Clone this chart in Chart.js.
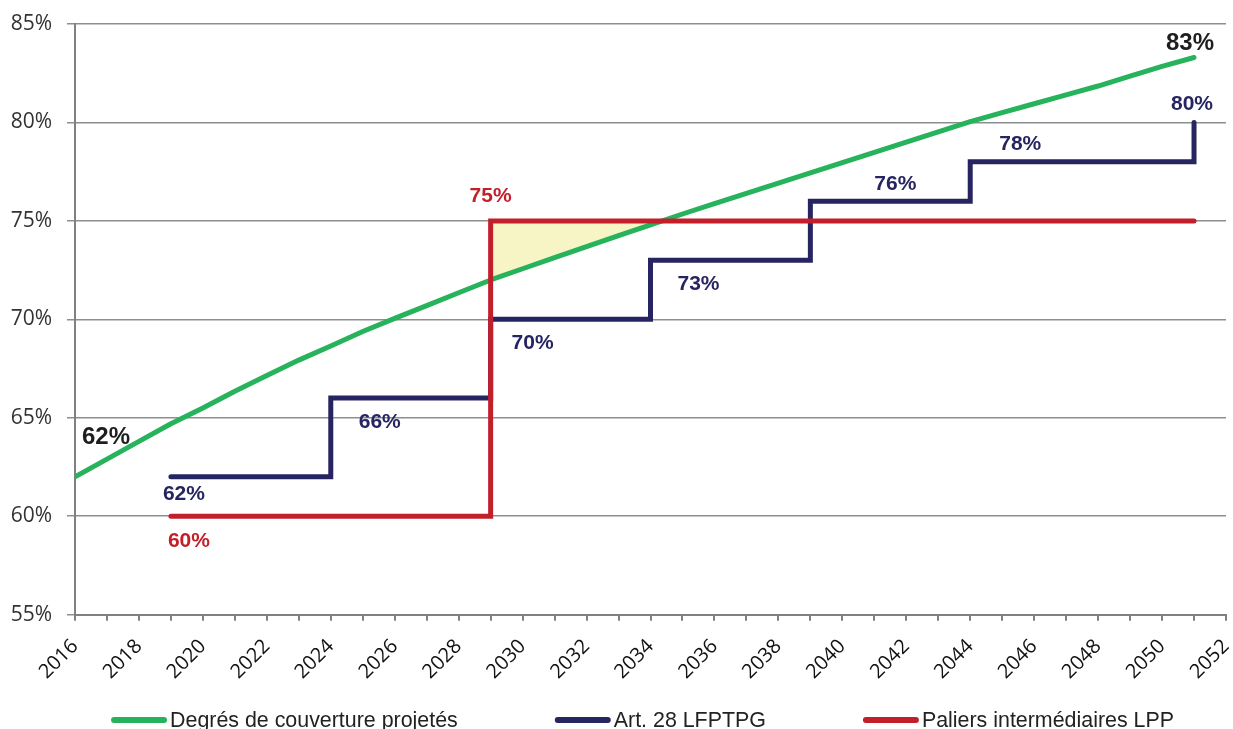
<!DOCTYPE html>
<html>
<head>
<meta charset="utf-8">
<title>Degrés de couverture</title>
<script src="https://cdn.jsdelivr.net/npm/chart.js@4.4.1/dist/chart.umd.min.js"></script>
<style>
  html, body { margin: 0; padding: 0; background: #ffffff; overflow: hidden; }
  #wrap { width: 1233px; height: 729px; position: relative; }
</style>
</head>
<body>
<div id="wrap"><canvas id="c"></canvas></div>
<script>
// Projected funding ratio, one value per year (%)
const years = [2016, 2017, 2018, 2019, 2020, 2021, 2022, 2023, 2024, 2025, 2026, 2027,
               2028, 2029, 2030, 2031, 2032, 2033, 2034, 2035, 2036, 2037, 2038, 2039,
               2040, 2041, 2042, 2043, 2044, 2045, 2046, 2047, 2048, 2049, 2050, 2051];
const couverture = [62.0, 62.9, 63.8, 64.7, 65.5, 66.35, 67.15, 67.93, 68.65, 69.38, 70.05, 70.7,
                    71.35, 72.0, 72.57, 73.13, 73.69, 74.25, 74.8, 75.35, 75.88, 76.4, 76.92, 77.44,
                    77.96, 78.48, 79.0, 79.52, 80.04, 80.5, 80.95, 81.4, 81.85, 82.35, 82.85, 83.3];

// Art. 28 LFPTPG steps (start year of each level, last entry closes the path)
const art28Years  = [2019, 2024, 2029, 2034, 2039, 2044, 2051];
const art28Values = [62, 66, 70, 73, 76, 78, 80];

// LPP intermediate levels
const lppYears  = [2019, 2029, 2051];
const lppValues = [60, 75, 75];

// Axis ranges and tick labels
const xMin = 2016, xMax = 2052;
const yTicks = [55, 60, 65, 70, 75, 80, 85];

const seriesNames = ['Degrés de couverture projetés', 'Art. 28 LFPTPG', 'Paliers intermédiaires LPP'];
const colors = { green: '#27b25c', navy: '#262561', red: '#c21f2a', gap: '#f7f4c6' };

const toPoints = (xs, ys) => xs.map((x, i) => ({ x: x, y: ys[i] }));
const greenPts = toPoints(years, couverture);
// Shortfall against the 75 % level once it applies (from 2029)
const gapPts = greenPts.filter(p => p.x >= 2029 && p.x <= 2037);

// Value labels next to chosen points
const valueLabels = {
  green: { color: '#1e1e1e', size: 24, items: [{ i: 0, dx: 31, dy: -39 }, { i: couverture.length - 1, dx: -4, dy: -14 }] },
  navy: { color: colors.navy, size: 21, items: [
    { i: 0, dx: 13, dy: 17 }, { i: 1, dx: 49, dy: 24 }, { i: 2, dx: 42, dy: 24 }, { i: 3, dx: 48, dy: 24 },
    { i: 4, dx: 85, dy: -17 }, { i: 5, dx: 50, dy: -18 }, { i: 6, dx: -2, dy: -18 } ] },
  red: { color: colors.red, size: 21, items: [{ i: 0, dx: 18, dy: 25 }, { i: 1, dx: 0, dy: -25 }] }
};

const valueLabelPlugin = {
  id: 'valueLabels',
  afterDatasetsDraw(chart) {
    const ctx = chart.ctx;
    chart.data.datasets.forEach((ds, di) => {
      const spec = valueLabels[ds.key];
      if (!spec) return;
      const meta = chart.getDatasetMeta(di);
      ctx.save();
      ctx.font = 'bold ' + spec.size + 'px "Liberation Sans", Arial, sans-serif';
      ctx.fillStyle = spec.color;
      ctx.textAlign = 'center';
      ctx.textBaseline = 'middle';
      spec.items.forEach(it => {
        const el = meta.data[it.i];
        const v = ds.data[it.i].y;
        ctx.fillText(Math.round(v) + '%', el.x + it.dx, el.y + it.dy);
      });
      ctx.restore();
    });
  }
};

// Legend row along the bottom edge
const bottomLegendPlugin = {
  id: 'bottomLegend',
  afterDraw(chart) {
    const ctx = chart.ctx;
    const items = chart.data.datasets.filter(ds => ds.inLegend);
    const sample = 56, textGap = 3, itemGap = 97;
    ctx.save();
    ctx.font = '21.4px "Liberation Sans", Arial, sans-serif';
    const widths = items.map(ds => sample + textGap + ctx.measureText(ds.label).width);
    const total = widths.reduce((a, b) => a + b, 0) + itemGap * (items.length - 1);
    const area = chart.chartArea;
    let x = (area.left + area.right) / 2 - 8 - total / 2;
    const yLine = 720, yText = 727;
    items.forEach((ds, k) => {
      ctx.strokeStyle = ds.borderColor;
      ctx.lineWidth = 6;
      ctx.lineCap = 'round';
      ctx.beginPath();
      ctx.moveTo(x + 3, yLine);
      ctx.lineTo(x + sample - 3, yLine);
      ctx.stroke();
      ctx.fillStyle = '#222222';
      ctx.textAlign = 'left';
      ctx.textBaseline = 'alphabetic';
      ctx.fillText(ds.label, x + sample + textGap, yText);
      x += widths[k] + itemGap;
    });
    ctx.restore();
  }
};

Chart.defaults.font.family = '"Open Sans", sans-serif';

const lineBase = {
  pointRadius: 0,
  pointHoverRadius: 0,
  borderWidth: 5,
  borderCapStyle: 'round',
  borderJoinStyle: 'miter',
  fill: false,
  tension: 0
};

new Chart(document.getElementById('c'), {
  type: 'line',
  data: {
    datasets: [
      Object.assign({}, lineBase, {
        key: 'green', label: seriesNames[0], inLegend: true, order: 2,
        data: greenPts, borderColor: colors.green, borderJoinStyle: 'round'
      }),
      Object.assign({}, lineBase, {
        key: 'navy', label: seriesNames[1], inLegend: true, order: 1,
        data: toPoints(art28Years, art28Values), borderColor: colors.navy, stepped: 'before'
      }),
      Object.assign({}, lineBase, {
        key: 'red', label: seriesNames[2], inLegend: true, order: 0,
        data: toPoints(lppYears, lppValues), borderColor: colors.red, stepped: 'before'
      }),
      {
        key: 'gap', label: 'gap', inLegend: false, order: 3,
        data: gapPts, borderWidth: 0, borderColor: 'rgba(0,0,0,0)', pointRadius: 0,
        fill: { value: 75, above: 'rgba(0,0,0,0)', below: colors.gap }
      }
    ]
  },
  options: {
    responsive: true,
    maintainAspectRatio: false,
    animation: false,
    events: [],
    layout: { padding: { left: 11, right: 7, top: 24, bottom: 31 } },
    plugins: {
      legend: { display: false },
      tooltip: { enabled: false }
    },
    scales: {
      x: {
        type: 'linear',
        min: xMin,
        max: xMax,
        afterFit: axis => { axis.paddingLeft = 0; axis.paddingRight = 0; },
        ticks: {
          stepSize: 1,
          autoSkip: false,
          maxRotation: 45,
          minRotation: 45,
          padding: 14,
          color: '#111111',
          font: { size: 20 },
          callback: v => (v % 2 === 0 ? String(v) : '')
        },
        grid: { drawOnChartArea: false, drawTicks: true, tickLength: 6, color: '#808080', lineWidth: 2 },
        border: { color: '#808080', width: 2 }
      },
      y: {
        min: yTicks[0],
        max: yTicks[yTicks.length - 1],
        afterBuildTicks: axis => { axis.ticks = yTicks.map(v => ({ value: v })); },
        afterFit: axis => { axis.width = 64; axis.paddingTop = 0; axis.paddingBottom = 0; },
        ticks: {
          padding: 15,
          color: '#333333',
          font: { size: 21 },
          callback: v => v + '%'
        },
        grid: { color: '#8e8e8e', lineWidth: 1.5, tickLength: 8, drawTicks: true },
        border: { color: '#808080', width: 2 }
      }
    }
  },
  plugins: [valueLabelPlugin, bottomLegendPlugin]
});
</script>
</body>
</html>
